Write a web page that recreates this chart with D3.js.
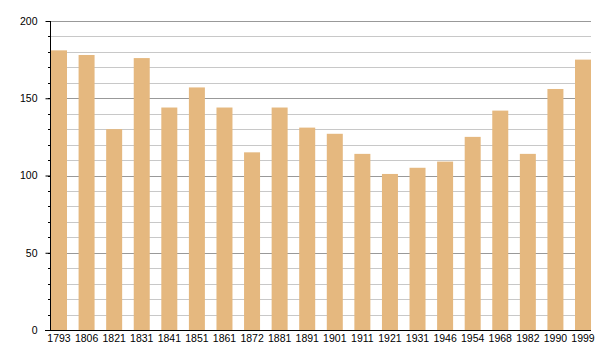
<!DOCTYPE html>
<html><head><meta charset="utf-8">
<script src="https://cdn.jsdelivr.net/npm/d3@7"></script>
<style>body{margin:0;background:#fff}text{font-family:"Liberation Sans",Arial,sans-serif}</style>
</head><body>
<svg id="c" width="600" height="360"></svg>
<script>
const years = ["1793","1806","1821","1831","1841","1851","1861","1872","1881","1891","1901","1911","1921","1931","1946","1954","1968","1982","1990","1999"];
const population = [181,178,130,176,144,157,144,115,144,131,127,114,101,105,109,125,142,114,156,175];
const majorTicks = [0,50,100,150,200];
const minorTicks = d3.range(0,201,10);

(function(){
const svg = d3.select("#c");
const mL = 50, mR = 591, mT = 21, mB = 330;
const fs = 10.5;
const x = d3.scaleBand().domain(years).range([mL+1, mR]).paddingInner(0.42).paddingOuter(0);
const y = d3.scaleLinear().domain([0,200]).range([mB, mT]);

// grid
svg.append("g").selectAll("line").data(minorTicks.filter(d=>d%50!==0)).join("line")
  .attr("x1",mL).attr("x2",mR).attr("y1",d=>Math.round(y(d))+0.5).attr("y2",d=>Math.round(y(d))+0.5)
  .attr("stroke","#c8c8c8").attr("stroke-width",1);
svg.append("g").selectAll("line").data(majorTicks.filter(d=>d>0)).join("line")
  .attr("x1",mL).attr("x2",mR).attr("y1",d=>Math.round(y(d))+0.5).attr("y2",d=>Math.round(y(d))+0.5)
  .attr("stroke","#999").attr("stroke-width",1);

// bars
svg.append("g").selectAll("rect").data(years).join("rect")
  .attr("x",d=>x(d)).attr("width",x.bandwidth())
  .attr("y",(d,i)=>y(population[i])).attr("height",(d,i)=>mB-y(population[i]))
  .attr("fill","#e5b87f");

// y axis
const ya = svg.append("g").attr("transform",`translate(${mL+0.5},0)`)
  .call(d3.axisLeft(y).tickValues(majorTicks).tickSize(5).tickPadding(8).tickFormat(d3.format("d")));
ya.select(".domain").remove();
ya.selectAll("text").attr("font-size",fs).attr("fill","#000").style("font-family","Liberation Sans, Arial, sans-serif");
ya.selectAll("line").attr("stroke","#000");
svg.append("g").attr("transform",`translate(${mL+0.5},0)`).selectAll("line").data(minorTicks).join("line")
  .attr("x1",-2.5).attr("x2",0).attr("y1",d=>Math.round(y(d))+0.5).attr("y2",d=>Math.round(y(d))+0.5).attr("stroke","#000");
svg.append("line").attr("x1",mL+0.5).attr("x2",mL+0.5).attr("y1",mT).attr("y2",mB).attr("stroke","#000");

// x axis
const xa = svg.append("g").attr("transform",`translate(0,${mB+0.5})`)
  .call(d3.axisBottom(x).tickSize(0).tickPadding(4));
xa.select(".domain").remove();
xa.selectAll("text").attr("font-size",fs).attr("fill","#000").style("font-family","Liberation Sans, Arial, sans-serif");
svg.append("line").attr("x1",45).attr("x2",mR).attr("y1",mB+0.5).attr("y2",mB+0.5).attr("stroke","#000");
})();
</script>
</body></html>
